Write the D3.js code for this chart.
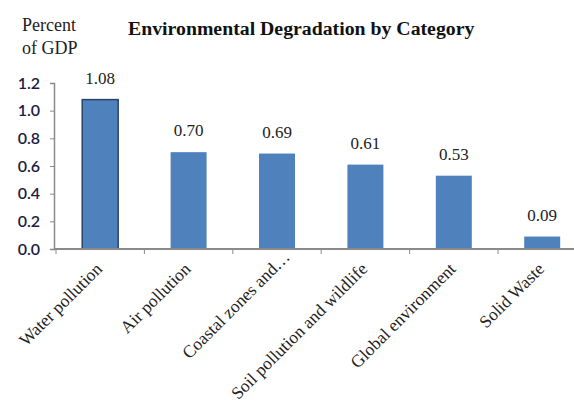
<!DOCTYPE html>
<html>
<head>
<meta charset="utf-8">
<script src="https://cdn.jsdelivr.net/npm/d3@7/dist/d3.min.js"></script>
<style>
  html, body { margin: 0; padding: 0; background: #fff; }
  svg { display: block; }
</style>
</head>
<body>
<svg id="chart" width="574" height="418"></svg>
<script>
// Environmental degradation cost, percent of GDP
const categories = ["Water pollution", "Air pollution", "Coastal zones and\u2026",
  "Soil pollution and wildlife", "Global environment", "Solid Waste"];
const values = [1.08, 0.70, 0.69, 0.61, 0.53, 0.09];
const yTicks = [0, 0.2, 0.4, 0.6, 0.8, 1.0, 1.2];
const titleText = "Environmental Degradation by Category";
const unitLines = ["Percent", "of GDP"];

const svg = d3.select("#chart");
const serif = "'Liberation Serif', 'Times New Roman', serif";
const sans = "Lato, 'Open Sans', sans-serif";

const plot = { left: 56, top: 83, bottom: 249, step: 88.4 };

const x = d3.scaleBand()
  .domain(categories)
  .range([plot.left, plot.left + plot.step * categories.length])
  .paddingInner(0.593)
  .paddingOuter(0.2965);

const y = d3.scaleLinear().domain([0, 1.2]).range([plot.bottom, plot.top]);

// Title and unit label
svg.append("text")
  .attr("x", 128).attr("y", 35)
  .attr("font-family", serif).attr("font-weight", "bold")
  .attr("font-size", 19.8).attr("fill", "#111")
  .text(titleText);

svg.append("g").selectAll("text").data(unitLines).join("text")
  .attr("x", 22).attr("y", (d, i) => 31 + i * 23)
  .attr("font-family", serif).attr("font-size", 18).attr("fill", "#222")
  .text(d => d);

// Bars
svg.append("g").selectAll("rect").data(values).join("rect")
  .attr("x", (d, i) => x(categories[i]))
  .attr("y", d => y(d))
  .attr("width", x.bandwidth())
  .attr("height", d => y(0) - y(d))
  .attr("fill", "#4f81bd")
  .attr("stroke", (d, i) => i === 0 ? "#2a4463" : "none")
  .attr("stroke-width", 1.5);

// Value labels
svg.append("g").selectAll("text").data(values).join("text")
  .attr("x", (d, i) => x(categories[i]) + x.bandwidth() / 2)
  .attr("y", d => y(d) - 16)
  .attr("text-anchor", "middle")
  .attr("font-family", serif).attr("font-size", 17).attr("fill", "#222")
  .text(d => d.toFixed(2));

// Y axis
const yAxis = svg.append("g")
  .attr("transform", `translate(${plot.left - 2},0)`)
  .call(d3.axisLeft(y).tickValues(yTicks).tickFormat(d3.format(".1f")).tickSize(4).tickPadding(10));
yAxis.select(".domain").attr("stroke", "#8a8a8a").attr("stroke-width", 1.5);
yAxis.selectAll(".tick line").attr("stroke", "#8a8a8a");
yAxis.selectAll(".tick text")
  .attr("font-family", sans).attr("font-size", 16).attr("font-weight", 600)
  .attr("fill", "#1c1c44");

// X axis: baseline with boundary ticks between categories
const boundaries = d3.range(categories.length + 1).map(i => plot.left + i * plot.step);
svg.append("line")
  .attr("x1", plot.left - 2).attr("x2", 574)
  .attr("y1", y(0)).attr("y2", y(0))
  .attr("stroke", "#8a8a8a").attr("stroke-width", 2);
svg.append("g").selectAll("line").data(boundaries).join("line")
  .attr("x1", d => d).attr("x2", d => d)
  .attr("y1", y(0)).attr("y2", y(0) + 5)
  .attr("stroke", "#8a8a8a").attr("stroke-width", 1);

// Rotated category labels
svg.append("g").selectAll("text").data(categories).join("text")
  .attr("transform", d => {
    const cx = x(d) + x.bandwidth() / 2;
    const trunc = d.endsWith("\u2026");
    const ex = cx + (trunc ? 14 : 3);
    const ey = trunc ? 258 : 270;
    return `translate(${ex},${ey}) rotate(-45)`;
  })
  .attr("text-anchor", "end")
  .attr("font-family", serif).attr("font-size", 17.5).attr("fill", "#222")
  .text(d => d);
</script>
</body>
</html>
